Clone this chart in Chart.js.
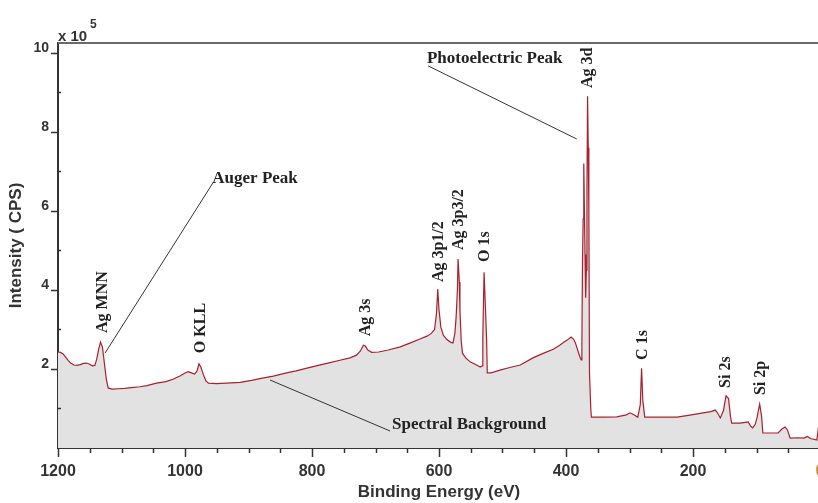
<!DOCTYPE html>
<html>
<head>
<meta charset="utf-8">
<title>XPS survey spectrum</title>
<script src="https://cdn.jsdelivr.net/npm/chart.js@4/dist/chart.umd.min.js"></script>
<style>
    html, body { margin: 0; padding: 0; background: #fff; overflow: hidden; }
    #wrap { width: 830px; height: 503px; }
</style>
</head>
<body>
<div id="wrap"><canvas id="myChart" width="830" height="503"></canvas></div>
<script>
// binding energy (eV) and intensity (x 10^5 CPS) of the survey scan
const energy = [
    1200, 1196, 1192, 1188, 1184, 1180, 1175, 1170, 1165, 1160, 1155, 1150, 1146, 1142, 1139, 1136,
    1133, 1130, 1127, 1124, 1121, 1115, 1105, 1095, 1085, 1071, 1060, 1045, 1030, 1019, 1008, 1000,
    995, 990, 985, 981, 978, 975, 971, 967, 963, 950, 935, 913, 895, 880, 861, 840,
    825, 808, 790, 775, 756, 740, 730, 724, 719, 716, 712, 706, 695, 680, 661, 645,
    630, 619, 612, 607, 604, 602, 600, 597, 593, 588, 582, 578, 575, 573, 571, 570,
    568, 567, 565, 563, 558, 551, 543, 535, 532, 531, 529, 527, 525, 524, 518, 504,
    490, 472, 452, 435, 420, 410, 403, 398, 392, 388, 385, 381, 378, 376, 375, 374,
    373, 372, 371, 370, 369, 368, 367, 366, 365, 364, 363, 361, 360, 340, 320, 305,
    299, 293, 287, 283, 281, 279, 276, 250, 225, 205, 184, 172, 165, 161, 157, 152,
    148, 144, 141, 139, 126, 118, 113, 109, 106, 102, 99, 97, 95, 92, 90, 78,
    66, 60, 55, 51, 47, 35, 25, 20, 15, 5, 3, 1
];
const intensity = [
    2.43, 2.42, 2.38, 2.30, 2.22, 2.15, 2.10, 2.09, 2.11, 2.14, 2.15, 2.12, 2.08, 2.09, 2.25, 2.50,
    2.68, 2.55, 2.15, 1.75, 1.52, 1.49, 1.50, 1.51, 1.53, 1.55, 1.58, 1.64, 1.68, 1.74, 1.82, 1.90,
    1.93, 1.90, 1.87, 1.95, 2.13, 2.05, 1.85, 1.70, 1.64, 1.63, 1.64, 1.66, 1.71, 1.76, 1.82, 1.90,
    1.95, 2.02, 2.09, 2.15, 2.22, 2.28, 2.35, 2.45, 2.60, 2.58, 2.48, 2.42, 2.43, 2.48, 2.56, 2.66,
    2.76, 2.83, 2.90, 3.00, 3.40, 4.02, 3.50, 3.05, 2.85, 2.75, 2.68, 2.66, 2.90, 3.32, 4.00, 4.78,
    4.20, 3.49, 2.70, 2.40, 2.28, 2.18, 2.12, 2.05, 2.08, 2.80, 4.45, 3.60, 2.73, 1.90, 1.90, 1.97,
    2.03, 2.10, 2.28, 2.40, 2.50, 2.60, 2.68, 2.73, 2.81, 2.75, 2.65, 2.45, 2.30, 2.23, 2.60, 4.70,
    5.80, 7.20, 6.00, 4.90, 3.80, 4.50, 6.50, 8.90, 7.60, 6.00, 1.90, 1.00, 0.78, 0.78, 0.79, 0.84,
    0.89, 0.84, 0.78, 1.10, 2.02, 1.20, 0.78, 0.78, 0.78, 0.83, 0.89, 0.92, 0.96, 0.88, 0.76, 0.95,
    1.32, 1.25, 0.80, 0.63, 0.63, 0.65, 0.66, 0.55, 0.51, 0.60, 0.78, 0.95, 1.11, 0.80, 0.38, 0.38,
    0.38, 0.48, 0.53, 0.45, 0.25, 0.26, 0.25, 0.29, 0.24, 0.20, 0.45, 0.71
];

// x axis ticks every 200 eV, minor every 50; y ticks 0..10, labels on even values
const xTicks = [1200, 1000, 800, 600, 400, 200, 0];
const yTicks = [0, 1, 2, 3, 4, 5, 6, 7, 8, 9, 10];

// peak names, written vertically above each peak
const peakNames = ['Ag MNN', 'O KLL', 'Ag 3s', 'Ag 3p1/2', 'Ag 3p3/2', 'O 1s', 'Ag 3d', 'C 1s', 'Si 2s', 'Si 2p'];
const peakEnergy = [1129, 975, 715, 600, 568, 527.5, 365, 279, 148, 93];
const peakLabelBase = [2.91, 2.40, 2.83, 4.20, 5.01, 4.71, 9.11, 2.23, 1.52, 1.34];

// callouts: text, where the text starts, and the two ends of the leader line
const callouts = [
    { text: 'Auger Peak', at: [957, 6.81], from: [956, 6.71], to: [1126, 2.40] },
    { text: 'Photoelectric Peak', at: [619, 9.85], from: [617, 9.67], to: [383, 7.82] },
    { text: 'Spectral Background', at: [674, 0.58], from: [677, 0.43], to: [866, 1.72] }
];

const points = energy.map((e, i) => ({ x: e, y: intensity[i] }));

const extras = {
    id: 'extras',
    afterDraw(chart) {
        const { ctx, chartArea, scales: { x, y } } = chart;
        ctx.save();

        // frame line along the top
        ctx.strokeStyle = '#6a6a6a';
        ctx.lineWidth = 2;
        ctx.beginPath();
        ctx.moveTo(chartArea.left, chartArea.top);
        ctx.lineTo(chartArea.right + 10, chartArea.top);
        ctx.stroke();

        // tick marks
        ctx.strokeStyle = '#333';
        ctx.lineWidth = 1.5;
        ctx.beginPath();
        for (let v = 0; v <= 1200; v += 50) {
            const px = Math.round(x.getPixelForValue(v)) + 0.5;
            const len = v % 200 === 0 ? 9 : 5;
            ctx.moveTo(px, chartArea.bottom);
            ctx.lineTo(px, chartArea.bottom + len);
        }
        yTicks.forEach((v) => {
            if (v === 0) return;
            const py = Math.round(y.getPixelForValue(v)) + 0.5;
            if (v % 2 === 0) {
                ctx.moveTo(chartArea.left - 7, py);
                ctx.lineTo(chartArea.left, py);
            } else {
                ctx.moveTo(chartArea.left, py);
                ctx.lineTo(chartArea.left + 3, py);
            }
        });
        ctx.stroke();

        // exponent
        ctx.fillStyle = '#333';
        ctx.textBaseline = 'middle';
        ctx.textAlign = 'left';
        ctx.font = 'bold 15px "Liberation Sans", Arial, sans-serif';
        ctx.fillText('x 10', chartArea.left, 37);
        ctx.font = 'bold 12px "Liberation Sans", Arial, sans-serif';
        ctx.fillText('5', chartArea.left + 32, 25);

        // peak names
        ctx.fillStyle = '#222';
        ctx.font = 'bold 16px "Liberation Serif", "Times New Roman", serif';
        ctx.textAlign = 'left';
        ctx.textBaseline = 'middle';
        peakNames.forEach((name, i) => {
            ctx.save();
            ctx.translate(x.getPixelForValue(peakEnergy[i]), y.getPixelForValue(peakLabelBase[i]));
            ctx.rotate(-Math.PI / 2);
            ctx.fillText(name, 0, 0);
            ctx.restore();
        });

        // callouts with leader lines
        ctx.strokeStyle = '#333';
        ctx.lineWidth = 1;
        ctx.font = 'bold 17px "Liberation Serif", "Times New Roman", serif';
        callouts.forEach((c) => {
            ctx.beginPath();
            ctx.moveTo(x.getPixelForValue(c.from[0]), y.getPixelForValue(c.from[1]));
            ctx.lineTo(x.getPixelForValue(c.to[0]), y.getPixelForValue(c.to[1]));
            ctx.stroke();
            ctx.fillText(c.text, x.getPixelForValue(c.at[0]), y.getPixelForValue(c.at[1]));
        });

        ctx.restore();
    }
};

const tickFont = { family: '"Liberation Sans", Arial, sans-serif', size: 16, weight: 'bold' };
const titleFont = { family: '"Liberation Sans", Arial, sans-serif', size: 17, weight: 'bold' };

var ctx = document.getElementById('myChart').getContext('2d');

var chart = new Chart(ctx, { //eslint-disable-line
    type: 'line',
    data: {
        datasets: [
            {
                label: 'Survey',
                data: points,
                borderColor: '#a8202e',
                borderWidth: 1.2,
                backgroundColor: '#e2e2e2',
                fill: 'origin',
                pointRadius: 0,
                tension: 0
            }
        ]
    },
    options: {
        responsive: false,
        animation: false,
        layout: { padding: { top: 43, right: 10, left: 0, bottom: 0 } },
        plugins: {
            legend: { display: false },
            tooltip: { enabled: false }
        },
        scales: {
            x: {
                type: 'linear',
                reverse: true,
                min: 0,
                max: 1200,
                afterBuildTicks: (scale) => { scale.ticks = xTicks.map((v) => ({ value: v })); },
                afterFit: (scale) => {
                    scale.height = 55;
                    scale.paddingLeft = 0;
                    scale.paddingRight = 0;
                },
                grid: { display: false, drawTicks: false },
                border: { display: true, color: '#333', width: 2 },
                ticks: {
                    padding: 14,
                    maxRotation: 0,
                    autoSkip: false,
                    font: tickFont,
                    color: (c) => (c.tick && c.tick.value === 0 ? '#d0903c' : '#333'),
                    callback: (v) => String(v)
                },
                title: {
                    display: true,
                    text: 'Binding Energy (eV)',
                    font: titleFont,
                    color: '#333',
                    padding: { top: 0, bottom: 0 }
                }
            },
            y: {
                min: 0,
                max: 10.25,
                afterBuildTicks: (scale) => { scale.ticks = yTicks.map((v) => ({ value: v })); },
                afterFit: (scale) => { scale.width = 58; },
                grid: { display: false, drawTicks: false },
                border: { display: true, color: '#333', width: 2 },
                ticks: {
                    padding: 9,
                    labelOffset: -5,
                    autoSkip: false,
                    font: { family: '"Liberation Sans", Arial, sans-serif', size: 14, weight: 'bold' },
                    color: '#333',
                    callback: (v) => (v > 0 && v % 2 === 0 ? String(v) : '')
                },
                title: {
                    display: true,
                    text: 'Intensity ( CPS)',
                    font: titleFont,
                    color: '#333',
                    padding: { top: 6, bottom: 0 }
                }
            }
        }
    },
    plugins: [extras]
});
</script>
</body>
</html>
